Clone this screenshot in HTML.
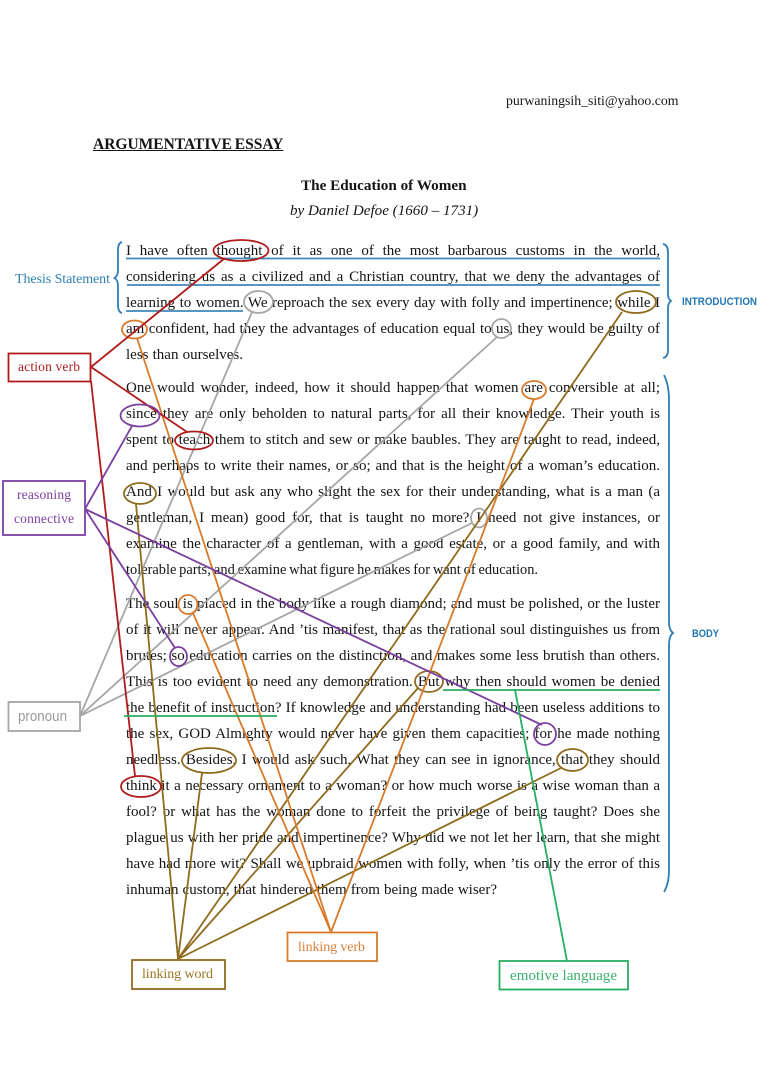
<!DOCTYPE html>
<html><head><meta charset="utf-8"><style>
html,body{margin:0;padding:0;background:#fff}
#p{position:relative;width:768px;height:1087px;overflow:hidden;background:#fff;font-family:"Liberation Serif",serif;color:#151515}
.l{position:absolute;left:126px;width:534px;height:20px;line-height:20px;font-size:15px;word-spacing:-1px;text-align:justify;text-align-last:justify}
.t{position:absolute;white-space:nowrap;line-height:20px}
svg{position:absolute;left:0;top:0}
</style></head><body><div id="p">
<div class="t" style="left:506px;top:91px;font-size:13.8px">purwaningsih_siti@yahoo.com</div>
<div class="t" style="left:93px;top:135px;font-size:15.5px;font-weight:bold;text-decoration:underline;word-spacing:-1px">ARGUMENTATIVE ESSAY</div>
<div class="t" style="left:301px;top:176px;font-size:15.2px;font-weight:bold">The Education of Women</div>
<div class="t" style="left:290px;top:201px;font-size:15.1px;font-style:italic">by Daniel Defoe (1660 – 1731)</div>

<div class="l" style="top:241px">I have often thought of it as one of the most barbarous customs in the world,</div>
<div class="l" style="top:267px">considering us as a civilized and a Christian country, that we deny the advantages of</div>
<div class="l" style="top:293px">learning to women. We reproach the sex every day with folly and impertinence; while I</div>
<div class="l" style="top:319px">am confident, had they the advantages of education equal to us, they would be guilty of</div>
<div class="l" style="top:345px;width:117px">less than ourselves.</div>
<div class="l" style="top:378px">One would wonder, indeed, how it should happen that women are conversible at all;</div>
<div class="l" style="top:404px">since they are only beholden to natural parts, for all their knowledge. Their youth is</div>
<div class="l" style="top:430px">spent to teach them to stitch and sew or make baubles. They are taught to read, indeed,</div>
<div class="l" style="top:456px">and perhaps to write their names, or so; and that is the height of a woman’s education.</div>
<div class="l" style="top:482px">And I would but ask any who slight the sex for their understanding, what is a man (a</div>
<div class="l" style="top:508px">gentleman, I mean) good for, that is taught no more? I need not give instances, or</div>
<div class="l" style="top:534px">examine the character of a gentleman, with a good estate, or a good family, and with</div>
<div class="l" style="top:560px;width:412px;font-size:14.4px">tolerable parts; and examine what figure he makes for want of education.</div>
<div class="l" style="top:594px">The soul is placed in the body like a rough diamond; and must be polished, or the luster</div>
<div class="l" style="top:620px">of it will never appear. And ’tis manifest, that as the rational soul distinguishes us from</div>
<div class="l" style="top:646px">brutes; so education carries on the distinction, and makes some less brutish than others.</div>
<div class="l" style="top:672px">This is too evident to need any demonstration. But why then should women be denied</div>
<div class="l" style="top:698px">the benefit of instruction? If knowledge and understanding had been useless additions to</div>
<div class="l" style="top:724px">the sex, GOD Almighty would never have given them capacities; for he made nothing</div>
<div class="l" style="top:750px">needless. Besides, I would ask such, What they can see in ignorance, that they should</div>
<div class="l" style="top:776px">think it a necessary ornament to a woman? or how much worse is a wise woman than a</div>
<div class="l" style="top:802px">fool? or what has the woman done to forfeit the privilege of being taught? Does she</div>
<div class="l" style="top:828px">plague us with her pride and impertinence? Why did we not let her learn, that she might</div>
<div class="l" style="top:854px">have had more wit? Shall we upbraid women with folly, when ’tis only the error of this</div>
<div class="l" style="top:880px;width:371px">inhuman custom, that hindered them from being made wiser?</div>

<svg width="768" height="1087" viewBox="0 0 768 1087" fill="none" stroke-width="1.8">
<g stroke="#3f88b8">
<path d="M126 258.500H660M127 285H660M126 311H243"/>
</g>
<g stroke="#2f7db5" stroke-width="1.8">
<path d="M122 242Q118 243 118 250V270Q118 276 114.500 278Q118 280 118 286V305Q118 312 122 313"/>
<path d="M663 244Q668 245 668 252V294Q668 299 671 301Q668 303 668 308V350Q668 357 663 358"/>
<path d="M664 375Q669 385 669 400V622Q669 630 673 633Q669 636 669 645V870Q669 884 664 892"/>
</g>
<text x="15" y="283" font-size="14" fill="#2e7fb0" stroke="none" textLength="95" font-family="Liberation Serif">Thesis Statement</text>
<text x="682" y="305" font-size="11" font-weight="bold" fill="#2277b5" stroke="none" textLength="75" lengthAdjust="spacingAndGlyphs" font-family="Liberation Sans">INTRODUCTION</text>
<text x="692" y="637" font-size="11" font-weight="bold" fill="#2277b5" stroke="none" textLength="27" lengthAdjust="spacingAndGlyphs" font-family="Liberation Sans">BODY</text>

<g stroke="#a6a6a6">
<path d="M80 716L252 312M80 716L497 337M80 716L472 523"/>
<ellipse cx="258.500" cy="302" rx="14.500" ry="11"/>
<ellipse cx="501.500" cy="328.500" rx="9.500" ry="9.500"/>
<ellipse cx="479" cy="518" rx="8" ry="9.500"/>
<rect x="8.500" y="702" width="71.500" height="29"/>
</g>
<text x="18" y="721" font-size="15" fill="#9a9a9a" stroke="none" textLength="49" font-family="Liberation Sans" lengthAdjust="spacingAndGlyphs">pronoun</text>

<g stroke="#8f6b1e">
<path d="M178 959L136 504M178 959L202 773M178 959L418 688M178 959L622 312M178 959L561 768"/>
<ellipse cx="140" cy="493.500" rx="16" ry="10.500"/>
<ellipse cx="209" cy="760.500" rx="27" ry="12.500"/>
<ellipse cx="429" cy="681.500" rx="14" ry="10.500"/>
<ellipse cx="636" cy="302" rx="20" ry="11"/>
<ellipse cx="572.500" cy="760" rx="15.500" ry="11"/>
<rect x="132" y="960" width="93" height="29"/>
</g>
<text x="142" y="978" font-size="14" fill="#9a7520" stroke="none" textLength="71" font-family="Liberation Serif">linking word</text>

<g stroke="#d97a2b">
<path d="M331 932L137 338M331 932L193 613M331 932L534 399"/>
<ellipse cx="134.500" cy="329.500" rx="12.500" ry="9"/>
<ellipse cx="188" cy="604.500" rx="9.500" ry="9.500"/>
<ellipse cx="534" cy="390" rx="12" ry="9"/>
<rect x="287.500" y="932.500" width="89.500" height="28.500"/>
</g>
<text x="298" y="951" font-size="14" fill="#d98036" stroke="none" textLength="67" font-family="Liberation Serif">linking verb</text>

<g stroke="#b01c1c">
<path d="M91 367L225 258M91 367L187 432M91 381L135 776"/>
<ellipse cx="241" cy="250.500" rx="27.500" ry="10.500"/>
<ellipse cx="194" cy="440.500" rx="19" ry="9"/>
<ellipse cx="141" cy="786.500" rx="20" ry="10.500"/>
<rect x="8.500" y="353.500" width="82" height="28"/>
</g>
<text x="18" y="371" font-size="13.500" fill="#a82020" stroke="none" textLength="62" font-family="Liberation Serif">action verb</text>

<g stroke="#7b3fa0">
<path d="M85 509L132 426M85 509L175 648M85 509L542 725"/>
<ellipse cx="140" cy="415.500" rx="19.500" ry="11"/>
<ellipse cx="178.500" cy="656.500" rx="8.500" ry="9.500"/>
<ellipse cx="545" cy="734" rx="11" ry="11"/>
<rect x="3" y="481" width="82" height="54"/>
</g>
<text x="17" y="499" font-size="13.500" fill="#7b3fa0" stroke="none" textLength="54" font-family="Liberation Serif">reasoning</text>
<text x="14" y="523" font-size="13.500" fill="#7b3fa0" stroke="none" textLength="60" font-family="Liberation Serif">connective</text>

<g stroke="#27ae60">
<path d="M443 690H660M124 716H277M515 690L567 961"/>
<rect x="499.500" y="961" width="128.500" height="28.500"/>
</g>
<text x="510" y="980" font-size="15" fill="#3bb06c" stroke="none" textLength="107" font-family="Liberation Serif">emotive language</text>
</svg>
</div></body></html>
